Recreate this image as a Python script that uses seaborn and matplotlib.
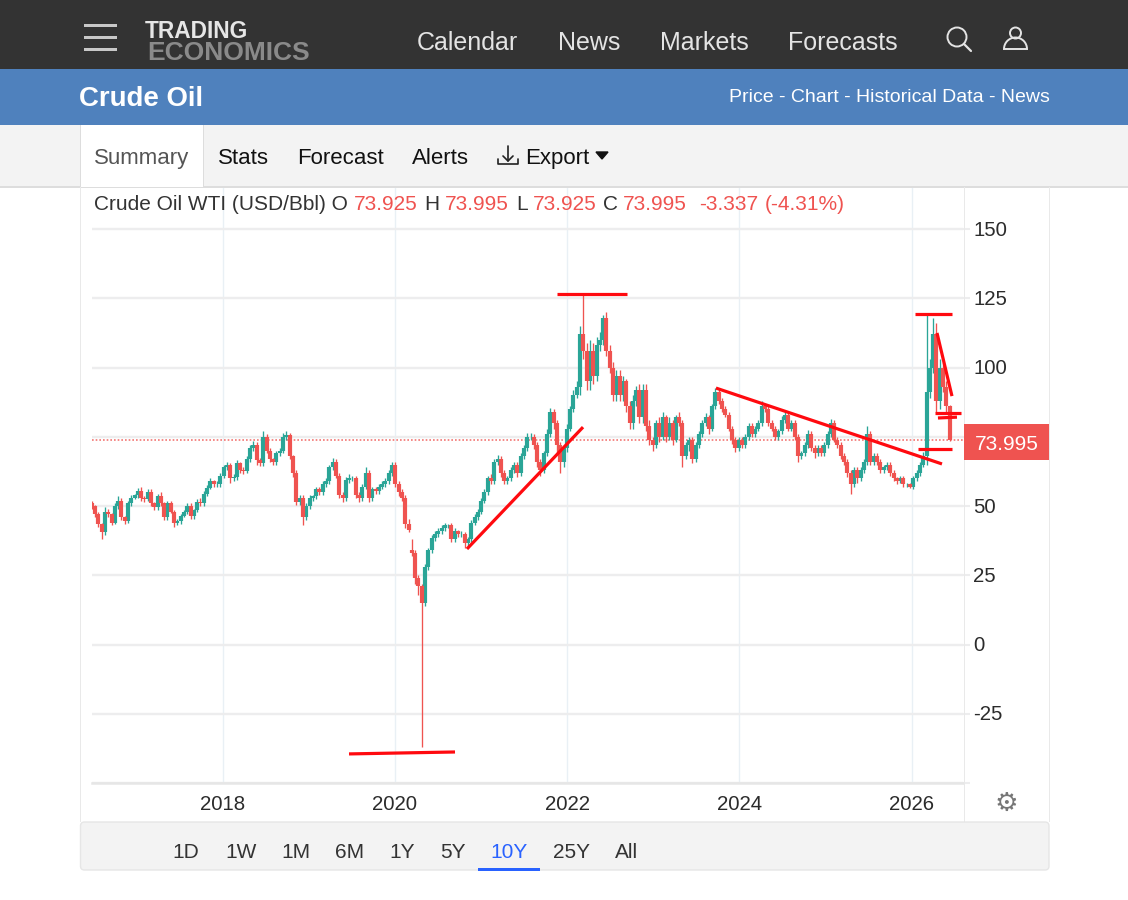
import matplotlib
matplotlib.use("Agg")
import matplotlib.pyplot as plt
from matplotlib.patches import Rectangle, Circle, Wedge, FancyBboxPatch
from matplotlib.transforms import ScaledTranslation
import pandas as pd
import seaborn as sns

# Values, one candle every two weeks
closes = [
    50, 47, 43.5, 40.5, 48, 47, 44, 50, 52, 46,
    44.5, 51, 53, 54, 55.5, 53, 52.5, 55, 51, 49.5,
    53.5, 51, 46, 51, 48, 44, 44.5, 46.5, 48, 50,
    46.5, 48.5, 51.5, 51, 54.5, 56.5, 59, 58, 58, 61,
    64, 65, 60, 60.5, 65.5, 63, 62.5, 67, 71, 72,
    66.5, 65.5, 75, 70, 67, 66, 69, 70, 75, 75.5,
    68, 62, 51.5, 53, 46, 50, 53, 53.5, 56, 55,
    58, 59, 64, 66, 61, 54, 53, 59.5, 60, 60,
    54, 53, 57, 62, 53, 56, 55.5, 57, 58, 59,
    62, 65, 58, 55, 53, 43.5, 41.5, 33, 24, 21,
    15, 28, 34, 38.5, 40, 41, 42, 43, 43, 38,
    41, 40, 40, 36.5, 38, 44, 46, 48, 52, 55,
    60, 59, 66, 67, 62, 59, 60, 63, 65, 62,
    68, 71, 75, 75, 72, 66, 63, 69, 76, 84,
    80, 72, 66, 71, 78, 85, 90, 93, 112, 106,
    95, 106, 97, 108, 110, 118, 106, 100, 90, 97,
    90, 95, 86, 80, 88, 92, 82, 92, 79, 74,
    72, 80, 75, 82, 75, 80, 74, 82, 80, 68,
    72, 74, 67, 72, 76, 80, 82, 78, 86, 91,
    88, 85, 83, 78, 74, 71, 74, 72, 75, 79,
    76, 78, 80, 86, 85, 80, 78, 75, 77, 81,
    83, 78, 80, 75, 68, 69, 72, 76, 71, 69,
    71, 69, 72, 76, 80, 74, 72, 68, 66, 62,
    58, 63, 60, 63, 66, 76, 66, 68, 66, 63,
    64, 65, 62, 60, 59, 60, 58, 58, 57, 60,
    62, 65, 68, 91, 100, 112, 88, 100, 93, 86,
    73.995,
]
# how far each wick goes past the body
wick_up = [
    1, 0.5, 1, 0.5, 1.5, 1, 0.5, 1, 1.5, 1,
    0.5, 1, 1, 0.5, 1, 1.5, 0.5, 1, 1, 0.5,
    1, 1.5, 0.5, 1, 1, 0.5, 1, 0.5, 0.5, 1,
    1, 0.5, 1, 1.5, 1, 1, 1, 0.5, 1, 1,
    1, 1, 0.5, 1, 1, 0.5, 1, 1, 1, 1.5,
    1, 1, 2, 1, 1, 0.5, 1, 1, 1.5, 1.5,
    1, 0.5, 1, 1, 1, 1, 1, 0.5, 1, 1,
    1, 1, 1, 1.5, 1, 1, 1, 1, 1.5, 1,
    1, 1, 1, 2, 1, 1, 1, 1, 1, 1,
    1, 1, 1, 1, 1, 1, 2, 4, 1, 1,
    1, 1, 1, 1, 1, 1, 1, 1, 0.5, 1,
    1, 0.5, 1, 0.5, 1, 1, 1, 1, 1, 1,
    1, 1.5, 1, 1.5, 1, 1, 1, 1, 1, 1,
    1, 1, 1.5, 1.5, 1, 1, 1, 1, 2, 1.5,
    1, 1, 1, 1, 1.5, 1, 2, 2, 3, 14.7,
    3, 4, 3, 3, 3, 1, 2, 2, 2, 2,
    2, 2, 1, 2, 2, 1.5, 2, 2, 2, 2,
    1, 1, 2, 2, 1, 2, 1, 1, 2, 1,
    1, 1, 1, 1, 1, 1, 1.5, 1, 1, 1.5,
    1, 1, 1, 1, 1, 1, 1, 1, 1, 1,
    1, 1, 1, 2, 1, 1, 1, 1, 1, 1.5,
    1, 1, 1, 1, 1, 1, 1, 1.5, 1, 1,
    1, 1, 1, 1, 1.5, 1, 1, 1, 1, 1,
    1, 1, 1, 1, 1, 3, 1, 1, 1, 1,
    1, 1, 1, 1, 0.5, 1, 1, 0.5, 0.5, 1,
    1, 1, 1.5, 28, 3, 6, 4, 3, 2, 2,
    0.5,
]
wick_down = [
    1, 1, 1, 2.5, 1, 1, 1, 0.5, 1, 1,
    1, 0.5, 1, 0.5, 1, 1, 1, 0.5, 1, 1,
    1, 1, 1, 1, 0.5, 1.5, 1, 1, 0.5, 1,
    1, 1, 0.5, 1, 1, 1, 0.5, 1, 1, 1,
    1, 1, 1.5, 1, 1, 1, 1, 0.5, 1, 1,
    1.5, 1, 1, 1, 1, 1, 1, 1, 1, 1,
    1, 1.5, 1, 1, 3, 1, 1, 1, 1, 1,
    1, 1, 1, 1, 1, 1, 1.5, 1, 1, 1,
    1, 1.5, 1, 1, 1.5, 1, 1, 1, 1, 1,
    1, 1, 1, 1.5, 1, 1.5, 1, 1, 2, 3,
    52, 1, 1, 1, 1, 1, 1, 1, 1, 1,
    1, 1, 1, 1.5, 1, 1, 1, 1, 1, 1,
    1, 1, 1, 1, 1.5, 1, 1, 1, 1, 1.5,
    1, 1, 1, 1, 1.5, 2, 2, 1, 1, 1,
    2, 3, 4, 2, 1.5, 1, 1, 1, 3, 3,
    3, 3, 3, 2, 2, 2, 2, 2, 2, 2,
    2, 2, 2, 2, 2, 2, 2, 2, 2, 2,
    2, 1, 2, 1, 2, 1, 2, 1, 1, 4,
    1, 2, 1.5, 1, 1, 1, 1, 2, 1, 1,
    1, 1, 1, 1, 1.5, 1.5, 1, 1, 1, 1,
    1, 1, 1, 1, 1, 1, 1, 1, 1, 1,
    1, 1, 1, 1, 2, 1, 1, 1, 1, 1.5,
    1, 1, 1, 1, 1, 1, 1, 1, 1, 1.5,
    3.5, 1, 1.5, 1, 1, 1, 1, 1, 1, 1,
    1, 1, 1, 1, 1, 0.5, 1, 1, 0.5, 1,
    1, 1, 1, 3, 2, 2, 4, 3, 2, 2,
    0.5,
]
# gap of April 2020: that candle opens lower than the one before closed
gap_index = 97
gap_open = 34

year_ticks = [2018, 2020, 2022, 2024, 2026]
price_ticks = [150, 125, 100, 75, 50, 25, 0, -25, -50]
price_labels = ["150", "125", "100", "", "50", "25", "0", "-25", ""]
last_price = 73.995

# hand drawn lines on the chart
trend_years = [
    [2019.467, 2020.698], [2020.837, 2022.185], [2021.883, 2022.696],
    [2023.729, 2026.354], [2026.040, 2026.470], [2026.296, 2026.470],
    [2026.273, 2026.575], [2026.307, 2026.528], [2026.076, 2026.470],
]
trend_prices = [
    [-39.5, -38.8], [34.5, 78.5], [126.5, 126.5],
    [92.6, 65.2], [119.3, 119.3], [112.5, 89.7],
    [83.6, 83.6], [81.8, 82.1], [70.6, 70.6],
]

range_buttons = ["1D", "1W", "1M", "6M", "1Y", "5Y", "10Y", "25Y", "All"]
range_x = [172, 225, 281, 335, 389, 440, 490, 553, 615]

GREEN = "#2aa597"
RED = "#ef5350"
LINE_RED = "#ff0a0f"
FONT = "Liberation Sans"

sns.set_theme(style="white")
plt.rcParams["font.family"] = [FONT, "DejaVu Sans"]

# candles as a long table, one small line per wick and per body
dates = pd.date_range("2016-06-24", periods=len(closes), freq="14D")
years = dates.year + (dates.dayofyear - 1) / 365.25
opens = [closes[0] + 1] + closes[:-1]
opens[gap_index] = gap_open

wicks = []
bodies = []
for i in range(len(closes)):
    top = max(opens[i], closes[i])
    bottom = min(opens[i], closes[i])
    side = "up" if closes[i] >= opens[i] else "down"
    wicks.append({"candle": i, "year": years[i], "price": top + wick_up[i], "side": side})
    wicks.append({"candle": i, "year": years[i], "price": bottom - wick_down[i], "side": side})
    bodies.append({"candle": i, "year": years[i], "price": opens[i], "side": side})
    bodies.append({"candle": i, "year": years[i], "price": closes[i], "side": side})
wicks = pd.DataFrame(wicks)
bodies = pd.DataFrame(bodies)

trends = []
for n in range(len(trend_years)):
    for k in range(2):
        trends.append({"line": n, "year": trend_years[n][k], "price": trend_prices[n][k]})
trends = pd.DataFrame(trends)

W, H = 1128, 900
fig = plt.figure(figsize=(W / 100, H / 100), dpi=100, facecolor="white")

# chart axes
ax = fig.add_axes([92 / W, (H - 783) / H, 871 / W, 596 / H], zorder=1)
ax.patch.set_alpha(0)
colors = {"up": GREEN, "down": RED}
sns.lineplot(data=wicks, x="year", y="price", hue="side", units="candle", estimator=None,
             palette=colors, hue_order=["up", "down"], linewidth=0.95, legend=False,
             solid_capstyle="butt", sort=False, ax=ax, zorder=3)
sns.lineplot(data=bodies, x="year", y="price", hue="side", units="candle", estimator=None,
             palette=colors, hue_order=["up", "down"], linewidth=3.0, legend=False,
             solid_capstyle="butt", sort=False, ax=ax, zorder=3)
sns.lineplot(data=trends, x="year", y="price", units="line", estimator=None, color=LINE_RED,
             linewidth=2.3, legend=False, solid_capstyle="butt", sort=False, ax=ax, zorder=4)
ax.axhline(last_price, color=RED, linestyle=(0, (1, 1.2)), linewidth=1.2, alpha=0.8, zorder=2)

ax.set_xlim(2016.482, 2026.598)
ax.set_ylim(-50, 165.2)
ax.set_xticks(year_ticks)
ax.set_xticklabels([str(y) for y in year_ticks])
ax.set_yticks(price_ticks)
ax.set_yticklabels(price_labels)
ax.yaxis.tick_right()
ax.set_xlabel("")
ax.set_ylabel("")
ax.grid(axis="y", color="#ededee", linewidth=1.7, zorder=0)
ax.grid(axis="x", color="#e9f0f5", linewidth=1, zorder=0)
ax.set_axisbelow(True)
ax.tick_params(axis="x", length=0, pad=8.5, labelsize=14.7, labelcolor="#2b2b2b")
ax.tick_params(axis="y", length=5, width=1.5, color="#ededee", pad=2.4, labelsize=14.7, labelcolor="#2b2b2b")
# price labels sit a pixel above their grid lines
for t in ax.get_yticklabels():
    t.set_transform(t.get_transform() + ScaledTranslation(0, 1 / 100, fig.dpi_scale_trans))
for s in ["top", "left", "right"]:
    ax.spines[s].set_visible(False)
ax.spines["bottom"].set_color("#e6e6e6")
ax.spines["bottom"].set_linewidth(1.8)

# page around the chart, in pixels
page = fig.add_axes([0, 0, 1, 1], zorder=2)
page.set_xlim(0, W)
page.set_ylim(H, 0)
page.axis("off")


def box(x0, y0, x1, y1, color, **kw):
    page.add_patch(Rectangle((x0, y0), x1 - x0, y1 - y0, facecolor=color, edgecolor="none", **kw))


def label(x, y, s, size=16, color="#222222", ha="left", **kw):
    page.text(x, y, s, fontsize=size, color=color, ha=ha, va="center_baseline", family=FONT, **kw)


box(0, 0, W, 69, "#333333")
box(0, 69, W, 124.5, "#4f81bd")
box(0, 124.5, W, 187, "#f3f3f3")
box(0, 186, W, 187.5, "#dddddd")
box(80, 125, 203, 187, "white")
box(203, 125, 204, 187, "#dddddd")
box(80, 125, 81, 187, "#dddddd")

# chart frame
for x in [80, 963.5, 1049]:
    box(x, 187, x + 1, 822, "#e9e9e9")
page.add_patch(FancyBboxPatch((80.5, 822), 968.5, 48, boxstyle="round,pad=0,rounding_size=4",
                              facecolor="#f3f3f3", edgecolor="#e6e6e6", linewidth=1))

# top bar
for y in [25, 37, 49]:
    box(84, y - 1.5, 117, y + 1.5, "#c8c8c8")
label(145, 29, "TRADING", size=16.4, color="#e6e6e6", fontweight="bold")
label(147, 51, "ECONOMICS", size=19, color="#8a8a8a", fontweight="bold")
nav_names = ["Calendar", "News", "Markets", "Forecasts"]
nav_x = [417, 558, 660, 788]
for name, x in zip(nav_names, nav_x):
    label(x, 41, name, size=18, color="#e4e4e4")
page.add_patch(Circle((957, 37), 9.5, facecolor="none", edgecolor="#e4e4e4", linewidth=1.4))
page.plot([964, 971], [44, 51], color="#e4e4e4", linewidth=1.6)
page.add_patch(Circle((1015.5, 33), 5.5, facecolor="none", edgecolor="#e4e4e4", linewidth=1.4))
page.add_patch(Wedge((1015.5, 49), 11.5, 180, 360, facecolor="none", edgecolor="#e4e4e4", linewidth=1.4))

# title bar
label(79, 96.5, "Crude Oil", size=19.9, color="white", fontweight="bold")
label(1050, 96, "Price - Chart - Historical Data - News", size=14, color="white", ha="right")

# tabs
label(94, 156, "Summary", size=16, color="#555555")
label(218, 156, "Stats", size=16, color="#111111")
label(297, 156, "Forecast", size=16, color="#111111")
label(412, 156, "Alerts", size=16, color="#111111")
label(525, 156, "Export", size=16, color="#111111")
page.plot([508, 508], [146, 161], color="#222222", linewidth=1.2)
page.plot([503, 508, 513], [156, 161, 156], color="#222222", linewidth=1.2)
page.plot([498, 498, 518, 518], [159, 164, 164, 159], color="#222222", linewidth=1.2)
page.fill([596, 608, 602], [152, 152, 159], color="#111111")

# price line above the chart
head = [
    (94, "Crude Oil WTI (USD/Bbl) O", "#333333"),
    (354, "73.925", RED),
    (424, "H", "#333333"),
    (445, "73.995", RED),
    (516, "L", "#333333"),
    (533, "73.925", RED),
    (603, "C", "#333333"),
    (623, "73.995", RED),
    (699, "-3.337", RED),
    (765, "(-4.31%)", RED),
]
for x, s, c in head:
    label(x, 202, s, size=15, color=c)

# current price tag
box(964, 424, 1049, 460, RED)
label(1006.5, 443, "73.995", size=15, color="white", ha="center")

# gear and range buttons
page.text(1006, 804, "\u2699", fontsize=19, color="#777777", ha="center", va="center", family="DejaVu Sans")
for s, x in zip(range_buttons, range_x):
    label(x, 851, s, size=15, color="#2962ff" if s == "10Y" else "#333333")
box(478, 868, 540, 870.5, "#2962ff")

fig.savefig("out.png", dpi=100)
